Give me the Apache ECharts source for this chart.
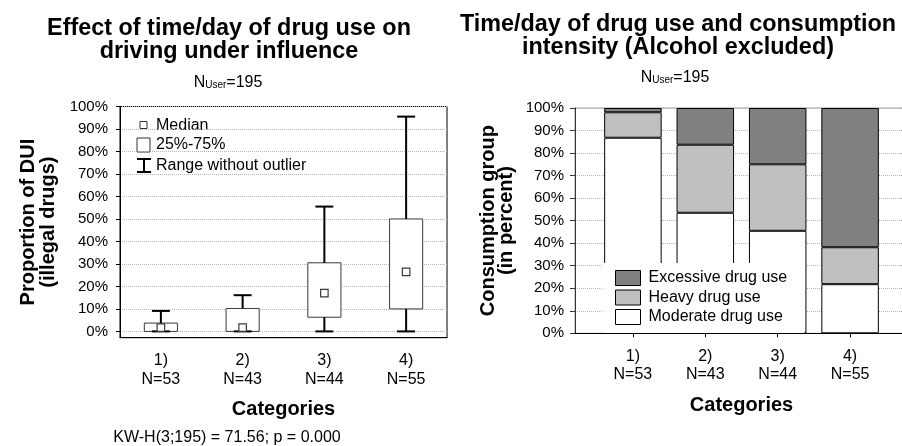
<!DOCTYPE html>
<html>
<head>
<meta charset="utf-8">
<script src="https://cdn.jsdelivr.net/npm/echarts@6/dist/echarts.min.js"></script>
<style>
  html, body { margin: 0; padding: 0; background: #fff; }
  #chart { width: 902px; height: 446px; }
</style>
</head>
<body>
<div id="chart"></div>
<script>
const FONT = "'Liberation Sans', Arial, Helvetica, sans-serif";

// Time/day categories and their group sizes (shared by both panels)
const categoryCodes = ['1)', '2)', '3)', '4)'];
const groupSizes = [53, 43, 44, 55];

// Proportion of DUI (illegal drugs) per category, in percent
const whiskerLow  = [0, 0, 0, 0];
const quartile1   = [0, 0, 6.3, 10];
const medians     = [1.7, 1.7, 17, 26.5];
const quartile3   = [3.7, 10.2, 30.5, 50];
const whiskerHigh = [9.1, 16.1, 55.5, 95.5];

// Consumption intensity shares per category, in percent
const moderateShare  = [86.8, 53.5, 45.5, 21.8];
const heavyShare     = [11.3, 30.2, 29.5, 16.4];
const excessiveShare = [1.9, 16.3, 25.0, 61.8];

// Axis ticks
const percentTicks = [0, 10, 20, 30, 40, 50, 60, 70, 80, 90, 100];
const categoryPositions = [1, 2, 3, 4];

// Legend texts
const boxLegendLabels = ['Median', '25%-75%', 'Range without outlier'];
const intensityLabels = ['Moderate drug use', 'Heavy drug use', 'Excessive drug use'];

const categoryLabels = categoryCodes.map((c, i) => c + '\nN=' + groupSizes[i]);
const boxData = categoryCodes.map((c, i) =>
  [i, whiskerLow[i], quartile1[i], medians[i], quartile3[i], whiskerHigh[i]]);

// Box: white 25%-75% rectangle, black whiskers with caps, small median square
function renderBox(params, api) {
  const idx = api.value(0);
  const band = api.size([1, 0])[0];
  const boxW = band * 0.405;
  const capW = band * 0.22;
  const medSize = 7.5;
  const low = api.coord([idx, api.value(1)]);
  const q1 = api.coord([idx, api.value(2)]);
  const med = api.coord([idx, api.value(3)]);
  const q3 = api.coord([idx, api.value(4)]);
  const high = api.coord([idx, api.value(5)]);
  const cx = low[0];
  const whisker = { stroke: '#000', lineWidth: 2 };
  return {
    type: 'group',
    children: [
      { type: 'rect', shape: { x: cx - boxW / 2, y: q3[1], width: boxW, height: q1[1] - q3[1] },
        style: { fill: '#fff', stroke: '#3a3a3a', lineWidth: 1 } },
      { type: 'line', shape: { x1: cx, y1: q3[1], x2: cx, y2: high[1] }, style: whisker },
      { type: 'line', shape: { x1: cx, y1: q1[1], x2: cx, y2: low[1] }, style: whisker },
      { type: 'line', shape: { x1: cx - capW / 2, y1: high[1], x2: cx + capW / 2, y2: high[1] }, style: whisker },
      { type: 'line', shape: { x1: cx - capW / 2, y1: low[1], x2: cx + capW / 2, y2: low[1] }, style: whisker },
      { type: 'rect', shape: { x: cx - medSize / 2, y: med[1] - medSize / 2, width: medSize, height: medSize },
        style: { fill: '#fff', stroke: '#3a3a3a', lineWidth: 1.2 } }
    ]
  };
}

// Rows are [share, position] so the share column is the one that gets stacked
function barData(values) {
  return categoryPositions.map((x, i) => [values[i], x]);
}

const tickLabelStyle = { fontSize: 15, color: '#000', fontFamily: FONT };
const catLabelStyle = { fontSize: 16, lineHeight: 18.5, color: '#000', fontFamily: FONT };
const axisNameStyle = { fontSize: 20, fontWeight: 'bold', color: '#000', fontFamily: FONT };
const gridLine = { show: true, lineStyle: { type: 'dotted', color: '#b5b5b5', width: 1 } };

const userCount = {
  n: { fontSize: 16, lineHeight: 16, fontFamily: FONT, fill: '#000', verticalAlign: 'middle' },
  s: { fontSize: 10, lineHeight: 6, fontFamily: FONT, fill: '#000', verticalAlign: 'bottom' }
};

const barStyle = (color) => ({ color: color, borderColor: '#000', borderWidth: 1 });

const chart = echarts.init(document.getElementById('chart'), null, { renderer: 'canvas' });

chart.setOption({
  animation: false,
  backgroundColor: '#fff',
  textStyle: { fontFamily: FONT },
  grid: [
    { left: 120, right: 455, top: 106.5, bottom: 108.3, show: true, borderColor: '#000', borderWidth: 1,
      outerBoundsMode: 'none' },
    { left: 575, right: -6, top: 108, bottom: 112.7, show: true, borderColor: '#9a9a9a', borderWidth: 1,
      outerBoundsMode: 'none' }
  ],
  xAxis: [
    {
      gridIndex: 0, type: 'category', data: categoryLabels,
      axisLine: { onZero: false, lineStyle: { color: '#000' } },
      axisTick: { alignWithLabel: true, length: 4, lineStyle: { color: '#000' } },
      axisLabel: Object.assign({ interval: 0, margin: 14 }, catLabelStyle),
      splitLine: { show: false },
      name: 'Categories', nameLocation: 'middle', nameGap: 62, nameMoveOverlap: false,
      nameTextStyle: axisNameStyle
    },
    {
      gridIndex: 1, type: 'value', min: 0.2, max: 4.8,
      axisLine: { onZero: false, lineStyle: { color: '#000' } },
      axisTick: { customValues: categoryPositions, length: 4, lineStyle: { color: '#000' } },
      axisLabel: Object.assign({ customValues: categoryPositions, margin: 14,
        formatter: v => categoryLabels[Math.round(v) - 1] }, catLabelStyle),
      splitLine: { show: false },
      name: 'Categories', nameLocation: 'middle', nameGap: 62, nameMoveOverlap: false,
      nameTextStyle: axisNameStyle
    }
  ],
  yAxis: [
    {
      gridIndex: 0, type: 'value', min: -2.8, max: 100,
      axisLine: { show: true, lineStyle: { color: '#000' } },
      axisTick: { show: true, customValues: percentTicks, length: 4, lineStyle: { color: '#000' } },
      axisLabel: Object.assign({ customValues: percentTicks, formatter: '{value}%', margin: 12 }, tickLabelStyle),
      splitLine: gridLine,
      name: 'Proportion of DUI\n(illegal drugs)', nameLocation: 'middle', nameRotate: 90, nameGap: 62,
      nameMoveOverlap: false,
      nameTextStyle: Object.assign({ lineHeight: 20 }, axisNameStyle)
    },
    {
      gridIndex: 1, type: 'value', min: 0, max: 100, interval: 10,
      axisLine: { show: true, lineStyle: { color: '#333' } },
      axisTick: { show: true, length: 5, lineStyle: { color: '#333' } },
      axisLabel: Object.assign({ formatter: '{value}%', margin: 11 }, tickLabelStyle),
      splitLine: gridLine,
      name: 'Consumption group\n(in percent)', nameLocation: 'middle', nameRotate: 90, nameGap: 59,
      nameMoveOverlap: false,
      nameTextStyle: Object.assign({ lineHeight: 18.5 }, axisNameStyle)
    }
  ],
  legend: {
    data: intensityLabels.slice().reverse(),
    orient: 'vertical', left: 603, top: 263,
    padding: [7, 17, 8, 12],
    itemWidth: 25, itemHeight: 15, itemGap: 3.5,
    icon: 'rect', selectedMode: false,
    backgroundColor: '#fff',
    itemStyle: { borderColor: '#000', borderWidth: 1 },
    textStyle: { fontSize: 16, color: '#000', fontFamily: FONT, padding: [0, 0, 0, 3] }
  },
  series: [
    {
      type: 'custom', name: 'DUI proportion', xAxisIndex: 0, yAxisIndex: 0,
      renderItem: renderBox, encode: { x: 0, y: [1, 2, 3, 4, 5] }, data: boxData, z: 3
    },
    {
      type: 'bar', name: intensityLabels[0], xAxisIndex: 1, yAxisIndex: 1, stack: 'share', barWidth: 57.5,
      encode: { x: 1, y: 0 }, data: barData(moderateShare), itemStyle: barStyle('#ffffff')
    },
    {
      type: 'bar', name: intensityLabels[1], xAxisIndex: 1, yAxisIndex: 1, stack: 'share', barWidth: 57.5,
      encode: { x: 1, y: 0 }, data: barData(heavyShare), itemStyle: barStyle('#c0c0c0')
    },
    {
      type: 'bar', name: intensityLabels[2], xAxisIndex: 1, yAxisIndex: 1, stack: 'share', barWidth: 57.5,
      encode: { x: 1, y: 0 }, data: barData(excessiveShare), itemStyle: barStyle('#808080')
    }
  ],
  graphic: [
    { type: 'text', z: 10, style: { text: 'Effect of time/day of drug use on\ndriving under influence',
        x: 229, y: 40, align: 'center', verticalAlign: 'middle',
        fontSize: 23.4, fontWeight: 'bold', fontFamily: FONT, lineHeight: 22.6, fill: '#000' } },
    { type: 'text', z: 10, style: { text: 'Time/day of drug use and consumption\nintensity (Alcohol excluded)',
        x: 678, y: 36, align: 'center', verticalAlign: 'middle',
        fontSize: 23.4, fontWeight: 'bold', fontFamily: FONT, lineHeight: 23.3, fill: '#000' } },
    { type: 'text', z: 10, style: { text: '{n|N}{s|User}{n|=195}', rich: userCount,
        x: 228, y: 82.2, align: 'center', verticalAlign: 'middle' } },
    { type: 'text', z: 10, style: { text: '{n|N}{s|User}{n|=195}', rich: userCount,
        x: 675, y: 77.5, align: 'center', verticalAlign: 'middle' } },
    { type: 'text', z: 10, style: { text: 'KW-H(3;195) = 71.56; p = 0.000',
        x: 227, y: 437.5, align: 'center', verticalAlign: 'middle',
        fontSize: 16, fontFamily: FONT, fill: '#000' } },
    // box plot key
    { type: 'group', z: 10, children: [
      { type: 'rect', shape: { x: 131, y: 108, width: 186, height: 72 }, style: { fill: '#fff' } },
      { type: 'rect', shape: { x: 140, y: 121.5, width: 7, height: 7 },
        style: { fill: '#fff', stroke: '#333', lineWidth: 1 } },
      { type: 'rect', shape: { x: 137, y: 138, width: 13, height: 14 },
        style: { fill: '#fff', stroke: '#333', lineWidth: 1 } },
      { type: 'line', shape: { x1: 137, y1: 159, x2: 151, y2: 159 }, style: { stroke: '#000', lineWidth: 2 } },
      { type: 'line', shape: { x1: 137, y1: 172, x2: 151, y2: 172 }, style: { stroke: '#000', lineWidth: 2 } },
      { type: 'line', shape: { x1: 144, y1: 159, x2: 144, y2: 172 }, style: { stroke: '#000', lineWidth: 2 } },
      { type: 'text', style: { text: boxLegendLabels[0], x: 156, y: 125.3, verticalAlign: 'middle',
          fontSize: 16, fontFamily: FONT, fill: '#000' } },
      { type: 'text', style: { text: boxLegendLabels[1], x: 156, y: 145, verticalAlign: 'middle',
          fontSize: 16, fontFamily: FONT, fill: '#000' } },
      { type: 'text', style: { text: boxLegendLabels[2], x: 156, y: 165.5, verticalAlign: 'middle',
          fontSize: 16, fontFamily: FONT, fill: '#000' } }
    ] }
  ]
});
</script>
</body>
</html>
